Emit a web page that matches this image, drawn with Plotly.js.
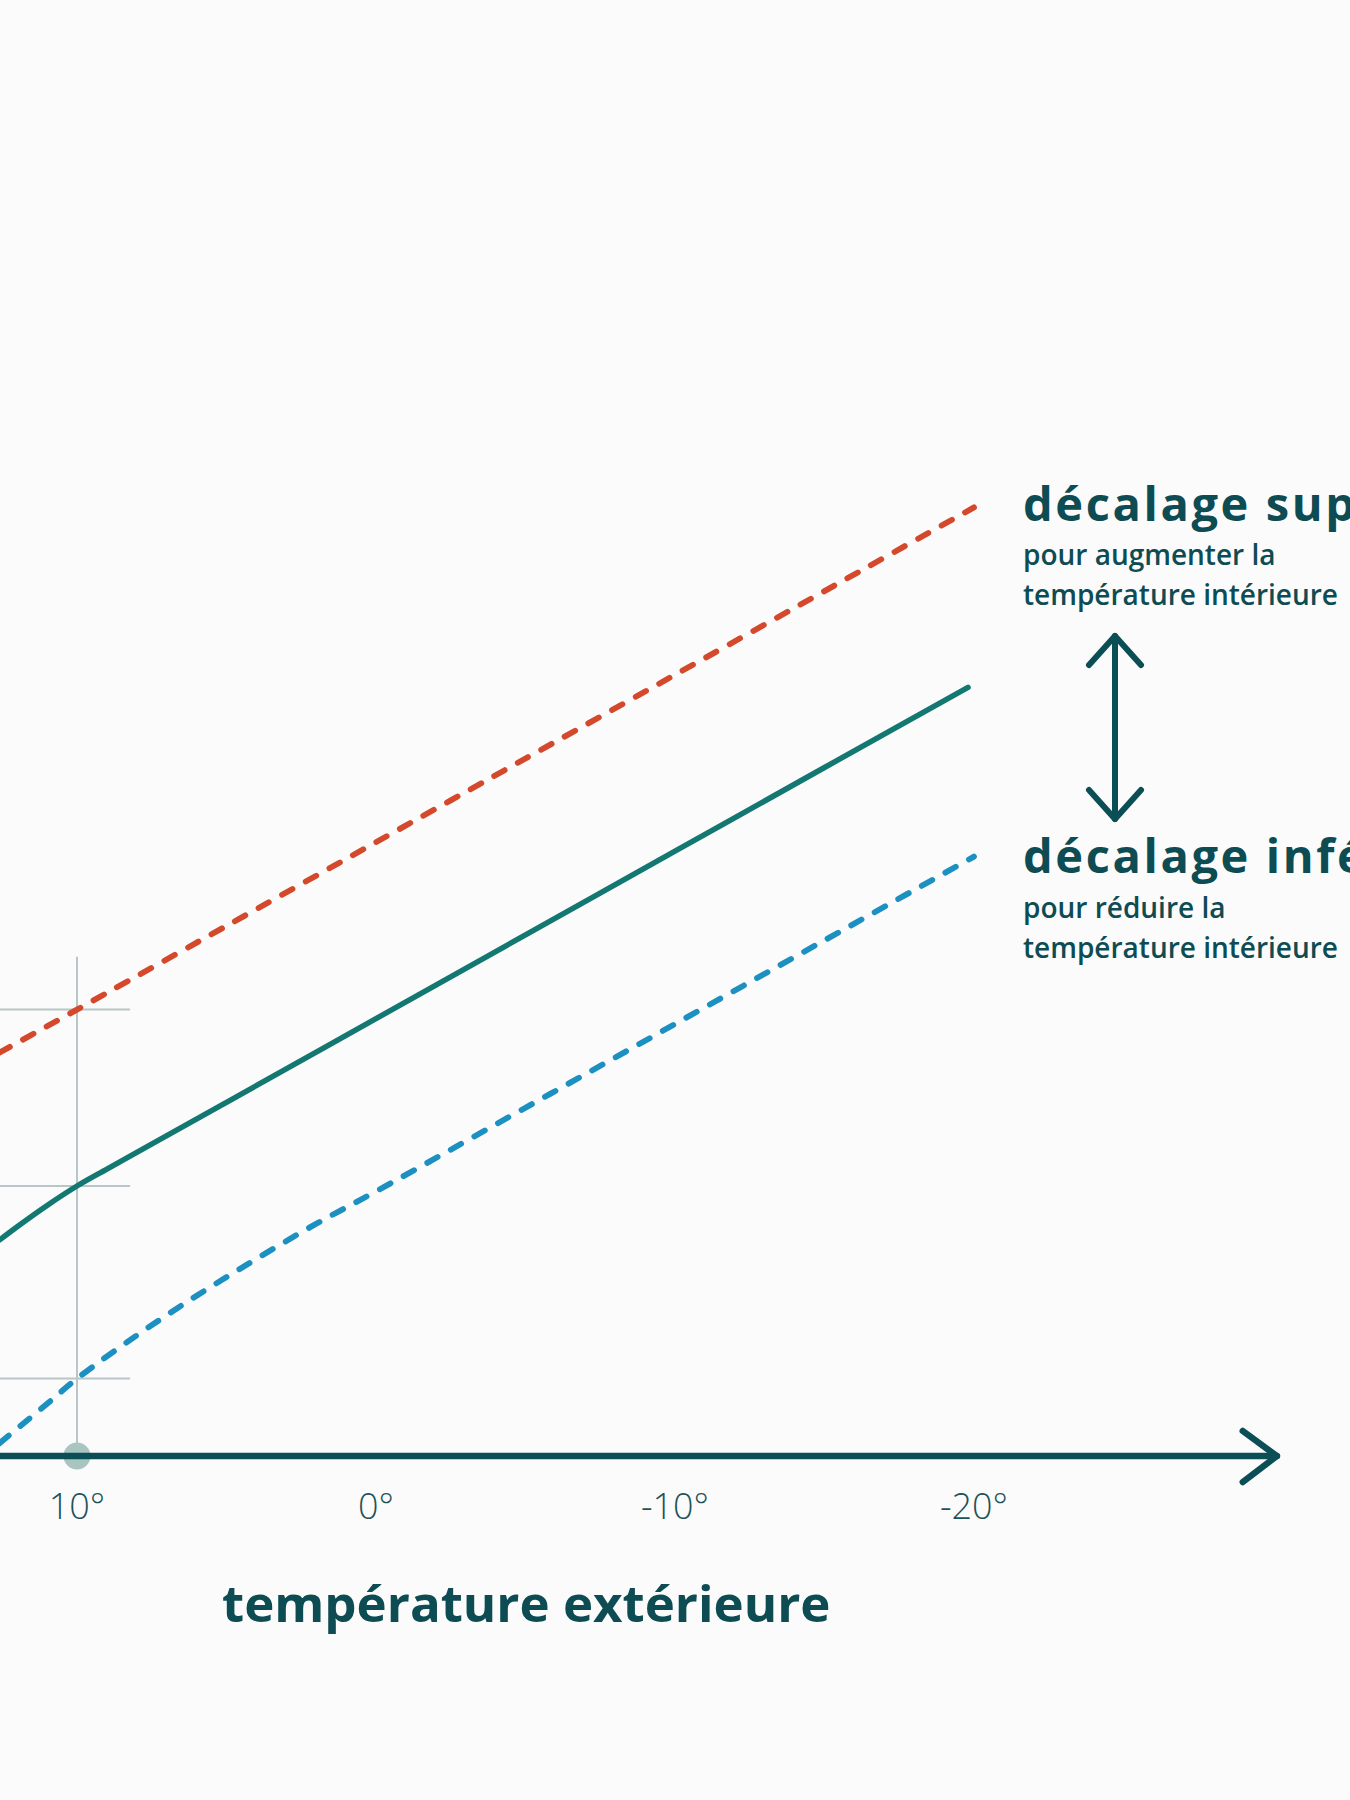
<!DOCTYPE html>
<html>
<head>
<meta charset="utf-8">
<script src="https://cdn.plot.ly/plotly-3.0.1.min.js"></script>
<style>
  html, body { margin: 0; padding: 0; background: #fbfbfb; }
  #chart { width: 1350px; height: 1800px; }
  .scatterlayer .js-line { stroke-linecap: round; stroke-linejoin: round; }
  .shapelayer path { stroke-linecap: round; stroke-linejoin: round; }
</style>
</head>
<body>
<div id="chart"></div>
<script>
// ---- data ----
// outdoor temperature (°C) -> flow temperature (arbitrary °C scale)
const tempNormal = [12.6, 12, 11, 10, 9, 8, 5, 0, -5, -10, -15, -19.8];
const flowNormal = [26.99, 27.74, 28.92, 30.0, 30.94, 31.87, 34.65, 39.3, 43.95, 48.6, 53.25, 57.7];

const tempUpper = [12.6, 10, 5, 0, -5, -10, -15, -20];
const flowUpper = [37.4, 39.8, 44.45, 49.1, 53.75, 58.4, 63.05, 67.7];

const tempLower = [12.6, 11, 10, 8, 6, 4, 2, 0, -5, -10, -15, -20];
const flowLower = [15.7, 17.9, 19.3, 21.7, 23.9, 25.95, 27.9, 29.7, 34.35, 39.0, 43.65, 48.3];

const tickValues = [10, 0, -10, -20];
const tickLabels = ['10°', '0°', '-10°', '-20°'];

const refTemp = 10;        // highlighted outdoor temperature
const baseFlow = 15;       // y value of the horizontal axis
const xLabel = 'température extérieure';
const upperTitle = 'décalage supérieur';
const upperText = ['pour augmenter la', 'température intérieure'];
const lowerTitle = 'décalage inférieur';
const lowerText = ['pour réduire la', 'température intérieure'];

// ---- styling ----
const C = {
  normal: '#127871',
  upper: '#d4482b',
  lower: '#1b90c1',
  axis: '#0c4e55',
  text: '#0d4c53',
  tick: '#1e5258',
  guide: '#b7c6c6',
  dot: '#a8c5bf',
  bg: '#fbfbfb'
};

const W = 1350, H = 1800;
const M = { l: 0, r: 50, t: 16, b: 344 };
const plotW = W - M.l - M.r, plotH = H - M.t - M.b;
const px2x = px => (px - M.l) / plotW;            // page px -> paper x
const py2y = py => (H - M.b - py) / plotH;        // page px -> paper y

function valAt(xs, ys, x) { return ys[xs.indexOf(x)]; }

const traces = [
  { x: tempUpper, y: flowUpper, mode: 'lines', line: { color: C.upper, width: 5.8, dash: '12px,15px', shape: 'spline', smoothing: 0.6 }, hoverinfo: 'skip' },
  { x: tempLower, y: flowLower, mode: 'lines', line: { color: C.lower, width: 5.8, dash: '12px,15px', shape: 'spline', smoothing: 1.0 }, hoverinfo: 'skip' },
  { x: tempNormal, y: flowNormal, mode: 'lines', line: { color: C.normal, width: 5.5, shape: 'spline', smoothing: 1.0 }, hoverinfo: 'skip' },
  { x: [refTemp], y: [baseFlow], mode: 'markers', marker: { size: 27, color: C.dot }, cliponaxis: false, hoverinfo: 'skip' }
];

const guideLeft = 12.6, guideRight = 8.25;
const guideTop = 42.7;
const shapes = [];
[valAt(tempUpper, flowUpper, refTemp), valAt(tempNormal, flowNormal, refTemp), valAt(tempLower, flowLower, refTemp)].forEach(v => {
  shapes.push({ type: 'line', xref: 'x', yref: 'y', x0: guideLeft, x1: guideRight, y0: v, y1: v, line: { color: C.guide, width: 2 }, layer: 'below' });
});
shapes.push({ type: 'line', xref: 'x', yref: 'y', x0: refTemp, x1: refTemp, y0: baseFlow, y1: guideTop, line: { color: C.guide, width: 2 }, layer: 'below' });

// horizontal axis with open arrow head
const axisEnd = -30.13;
shapes.push({ type: 'line', xref: 'x', yref: 'paper', x0: 13, x1: axisEnd, y0: 0, y1: 0, line: { color: C.axis, width: 6.5 } });
shapes.push({ type: 'path', xref: 'x', yref: 'paper',
  path: `M ${axisEnd + 1.14} ${py2y(1431)} L ${axisEnd} 0 L ${axisEnd + 1.14} ${py2y(1482)}`,
  line: { color: C.axis, width: 6.5 } });

// double arrow between the two offset labels
const ax = px2x(1115);
shapes.push({ type: 'path', xref: 'paper', yref: 'paper',
  path: `M ${ax} ${py2y(636)} L ${ax} ${py2y(819)}`, line: { color: C.axis, width: 6 } });
shapes.push({ type: 'path', xref: 'paper', yref: 'paper',
  path: `M ${px2x(1089)} ${py2y(665)} L ${ax} ${py2y(636)} L ${px2x(1141)} ${py2y(665)}`, line: { color: C.axis, width: 6 } });
shapes.push({ type: 'path', xref: 'paper', yref: 'paper',
  path: `M ${px2x(1089)} ${py2y(790)} L ${ax} ${py2y(819)} L ${px2x(1141)} ${py2y(790)}`, line: { color: C.axis, width: 6 } });

const FF = '"Open Sans", "Noto Sans", sans-serif';
function note(text, pxX, baseline, size, weight, anchor) {
  return {
    text: text, xref: 'paper', yref: 'paper', showarrow: false,
    x: px2x(pxX), y: py2y(baseline - 0.388 * size),
    xanchor: anchor || 'left', yanchor: 'middle', align: 'left',
    font: { family: FF, size: size, weight: weight, color: C.text }
  };
}
const textX = 1021;
const annotations = [
  note('<span style="letter-spacing:2.6px">' + upperTitle + '</span>', textX, 521, 47, 700),
  note(upperText[0], textX, 565, 28, 600),
  note(upperText[1], textX, 605, 28, 600),
  note('<span style="letter-spacing:2.6px">' + lowerTitle + '</span>', textX, 873, 47, 700),
  note(lowerText[0], textX, 918, 28, 600),
  note(lowerText[1], textX, 958, 28, 600),
  note(xLabel, 526, 1622, 51, 700, 'center')
];

const layout = {
  width: W, height: H,
  margin: M,
  paper_bgcolor: C.bg, plot_bgcolor: C.bg,
  showlegend: false,
  xaxis: {
    range: [12.575, 12.575 - plotW / 29.9],
    tickvals: tickValues, ticktext: tickLabels,
    ticks: '', showgrid: false, zeroline: false, showline: false,
    ticklabelstandoff: 26,
    tickfont: { family: FF, size: 36, weight: 300, color: C.tick },
    fixedrange: true
  },
  yaxis: {
    range: [baseFlow, baseFlow + plotH / 18],
    visible: false, showgrid: false, zeroline: false, fixedrange: true
  },
  shapes: shapes,
  annotations: annotations
};

Plotly.newPlot('chart', traces, layout, { displayModeBar: false, staticPlot: true });
</script>
</body>
</html>
